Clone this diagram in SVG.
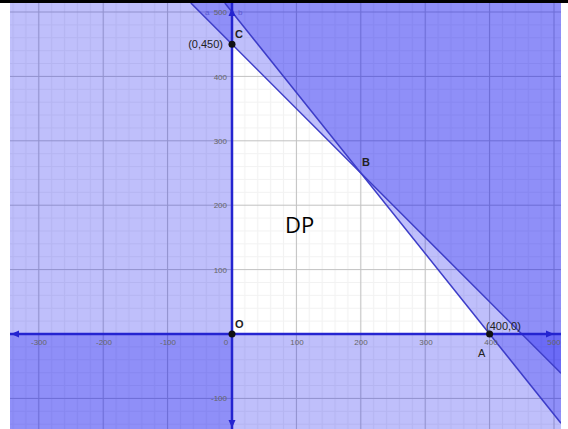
<svg xmlns="http://www.w3.org/2000/svg" width="568" height="429" viewBox="0 0 568 429">
  <style>
    .fill { fill: #0000f0; fill-opacity: 0.25; }
    .bound { stroke: #3c3cc8; stroke-width: 1.5; fill: none; }
    .axis { stroke: #2424d0; stroke-width: 2.5; fill: none; }
    .arrow { fill: #2424d0; }
    .tick { font-family: "Liberation Sans", Arial, sans-serif; font-size: 8px; fill: #666; }
    .lbl { font-family: "Liberation Sans", Arial, sans-serif; font-size: 11px; fill: #222; }
    .lblb { font-family: "Liberation Sans", Arial, sans-serif; font-size: 11px; font-weight: bold; fill: #222; }
    .linelbl { font-family: "Liberation Sans", Arial, sans-serif; font-size: 8px; fill: #5a5ad0; }
    .dot { fill: #111; }
  </style>
  <defs>
    <clipPath id="plot">
      <rect x="10" y="3" width="551" height="426"/>
    </clipPath>
    <pattern id="minor" patternUnits="userSpaceOnUse" x="225.56" y="327.56" width="12.88" height="12.88">
      <path d="M6.44 0 V12.88 M0 6.44 H12.88" stroke="#000" stroke-opacity="0.05" stroke-width="1"/>
    </pattern>
    <pattern id="major" patternUnits="userSpaceOnUse" x="199.8" y="301.8" width="64.4" height="64.4">
      <path d="M32.2 0 V64.4 M0 32.2 H64.4" stroke="#000" stroke-opacity="0.2" stroke-width="1"/>
    </pattern>
  </defs>

  <rect x="0" y="0" width="568" height="429" fill="#fff"/>

  <g id="plot-area" clip-path="url(#plot)">
    <rect x="10" y="3" width="551" height="426" fill="#fff"/>
    <rect x="10" y="3" width="551" height="426" fill="url(#minor)"/>
    <rect x="10" y="3" width="551" height="426" fill="url(#major)"/>

    <g id="regions">
      <rect class="fill" x="10" y="3" width="222" height="426"/>
      <rect class="fill" x="10" y="334" width="551" height="95"/>
      <polygon class="fill" points="190.8,3 561,3 561,373.2"/>
      <polygon class="fill" points="224.8,3 561,3 561,423.25"/>
    </g>

    <g id="connectors">
      <line id="line-a" class="bound" x1="190.8" y1="3" x2="561" y2="373.2"/>
      <line id="line-b" class="bound" x1="224.8" y1="3" x2="561" y2="423.25"/>
      <line id="x-axis" class="axis" x1="10" y1="334" x2="561" y2="334"/>
      <line id="y-axis" class="axis" x1="232" y1="3" x2="232" y2="429"/>
      <polygon class="arrow" points="232,8 228.5,16 235.5,16"/>
      <polygon class="arrow" points="232,428 228.5,420 235.5,420"/>
      <polygon class="arrow" points="11,334 19,330.5 19,337.5"/>
      <polygon class="arrow" points="554,334 546,330.5 546,337.5"/>
    </g>
  </g>

  <g id="tick-labels">
    <text class="tick" x="39" y="345" text-anchor="middle">-300</text>
    <text class="tick" x="104" y="345" text-anchor="middle">-200</text>
    <text class="tick" x="168" y="345" text-anchor="middle">-100</text>
    <text class="tick" x="226" y="345" text-anchor="middle">0</text>
    <text class="tick" x="297" y="345" text-anchor="middle">100</text>
    <text class="tick" x="361" y="345" text-anchor="middle">200</text>
    <text class="tick" x="426" y="345" text-anchor="middle">300</text>
    <text class="tick" x="491" y="345" text-anchor="middle">400</text>
    <text class="tick" x="554" y="345" text-anchor="middle">500</text>
    <text class="tick" x="227" y="15" text-anchor="end">500</text>
    <text class="tick" x="227" y="80" text-anchor="end">400</text>
    <text class="tick" x="227" y="144" text-anchor="end">300</text>
    <text class="tick" x="227" y="208" text-anchor="end">200</text>
    <text class="tick" x="227" y="273" text-anchor="end">100</text>
    <text class="tick" x="227" y="401" text-anchor="end">-100</text>
    <text class="linelbl" x="205" y="15">a</text>
    <text class="linelbl" x="238" y="15">b</text>
  </g>

  <g id="point-C">
    <circle class="dot" cx="232" cy="44.2" r="3.5"/>
    <text class="lblb" x="235" y="38">C</text>
    <text class="lbl" x="223" y="48" text-anchor="end">(0,450)</text>
  </g>
  <g id="point-B">
    <text class="lblb" x="362" y="166">B</text>
  </g>
  <g id="point-O">
    <circle class="dot" cx="232" cy="334" r="3.5"/>
    <text class="lblb" x="235" y="328">O</text>
  </g>
  <g id="point-A">
    <circle class="dot" cx="489.6" cy="334" r="3.5"/>
    <text class="lbl" x="486" y="330">(400,0)</text>
    <text class="lbl" x="478" y="357">A</text>
  </g>
  <g id="label-DP">
    <text x="285" y="233" font-family="'Open Sans', 'Liberation Sans', sans-serif" font-size="22" fill="#000">DP</text>
  </g>

  <rect x="0" y="0" width="568" height="3" fill="#000"/>
</svg>
